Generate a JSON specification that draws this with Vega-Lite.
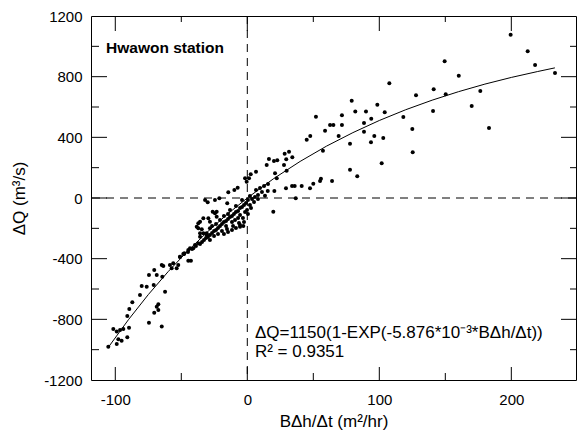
{
  "$schema": "https://vega.github.io/schema/vega-lite/v6.json",
  "autosize": "none",
  "width": 485,
  "height": 364,
  "padding": {"left": 91, "top": 16, "right": 1, "bottom": 55},
  "background": "white",
  "config": {
    "view": {"stroke": "black", "strokeWidth": 1},
    "font": "Liberation Sans"
  },
  "datasets": {
    "points": [
      {"x": 199.5, "y": 1076}, {"x": 212.4, "y": 967}, {"x": 149.5, "y": 901}, {"x": 218, "y": 877},
      {"x": 160.2, "y": 806}, {"x": 233.1, "y": 824}, {"x": 141.2, "y": 717}, {"x": 150.3, "y": 684},
      {"x": 176.5, "y": 705}, {"x": 140.7, "y": 574}, {"x": 170, "y": 606}, {"x": 183.1, "y": 461},
      {"x": 107.6, "y": 756}, {"x": 127.8, "y": 677}, {"x": 79.1, "y": 641}, {"x": 98.5, "y": 615},
      {"x": 52, "y": 536}, {"x": 71.7, "y": 545}, {"x": 81.8, "y": 571}, {"x": 89.9, "y": 571},
      {"x": 93.9, "y": 523}, {"x": 104.1, "y": 565}, {"x": 118.2, "y": 534}, {"x": 62.7, "y": 481},
      {"x": 65.2, "y": 481}, {"x": 71.7, "y": 481}, {"x": 88.4, "y": 494}, {"x": 58.9, "y": 444},
      {"x": 47.7, "y": 409}, {"x": 45, "y": 384}, {"x": 69.2, "y": 409}, {"x": 88.4, "y": 437},
      {"x": 96.2, "y": 409}, {"x": 125, "y": 455}, {"x": 77.8, "y": 358}, {"x": 93.7, "y": 367},
      {"x": 103, "y": 396}, {"x": 57.3, "y": 312}, {"x": 28.3, "y": 292}, {"x": 31.6, "y": 305},
      {"x": 29.5, "y": 255}, {"x": 34.1, "y": 268}, {"x": 27.8, "y": 218}, {"x": 29.8, "y": 180},
      {"x": 125.3, "y": 301}, {"x": 101.8, "y": 229}, {"x": 77.8, "y": 187}, {"x": 83.3, "y": 143},
      {"x": 29.3, "y": 64}, {"x": 33.9, "y": 79}, {"x": 35.9, "y": 79}, {"x": 41.2, "y": 79},
      {"x": 47.5, "y": 64}, {"x": 50, "y": 94}, {"x": 55.1, "y": 112}, {"x": 55.8, "y": 127},
      {"x": 64.2, "y": 112}, {"x": 36.7, "y": -2},
      {"x": 16.4, "y": 257}, {"x": 20.2, "y": 244}, {"x": 22.7, "y": 249}, {"x": 14.7, "y": 218},
      {"x": 6.6, "y": 173}, {"x": 2.6, "y": 156}, {"x": 1.3, "y": 130}, {"x": -1.7, "y": 130},
      {"x": -0.5, "y": 107}, {"x": 22.3, "y": 130}, {"x": 21, "y": 163}, {"x": -7.3, "y": 68},
      {"x": -9.8, "y": 53}, {"x": -14.4, "y": 38}, {"x": 15.5, "y": 46}, {"x": 20.5, "y": 46},
      {"x": 13.4, "y": 15}, {"x": -21.2, "y": -2}, {"x": -24.5, "y": -13}, {"x": -30, "y": -28},
      {"x": -32, "y": -13}, {"x": -23.2, "y": -90}, {"x": -29.5, "y": -134}, {"x": -35.8, "y": -156},
      {"x": -37.1, "y": -200}, {"x": -28.3, "y": -200}, {"x": -24.5, "y": -101}, {"x": -37.1, "y": -167},
      {"x": -28.3, "y": -156}, {"x": -30.8, "y": -233}, {"x": -35.8, "y": -233}, {"x": 19.7, "y": -90},
      {"x": -5.5, "y": -189}, {"x": -3, "y": -185}, {"x": -15.2, "y": -35}, {"x": -33.3, "y": -134},
      {"x": -26.2, "y": -90}, {"x": -23.2, "y": -123}, {"x": -38.3, "y": -189}, {"x": -34.5, "y": -206},
      {"x": 11.1, "y": 40}, {"x": 8.1, "y": 20}, {"x": 5.8, "y": 7}, {"x": 3.6, "y": -7},
      {"x": 2, "y": 13}, {"x": 0.5, "y": -13}, {"x": -1, "y": -33}, {"x": -2.5, "y": -46},
      {"x": -4, "y": -59}, {"x": -5.5, "y": -66}, {"x": -7, "y": -86}, {"x": -8.6, "y": -92},
      {"x": -10.1, "y": -105}, {"x": -11.6, "y": -119}, {"x": -13.1, "y": -125}, {"x": -14.6, "y": -138},
      {"x": -16.1, "y": -152}, {"x": -17.7, "y": -158}, {"x": -19.2, "y": -171}, {"x": -20.7, "y": -185},
      {"x": -22.2, "y": -198}, {"x": -23.7, "y": -211}, {"x": -25.2, "y": -218}, {"x": -26.7, "y": -231},
      {"x": -28.3, "y": -244}, {"x": -29.8, "y": -257}, {"x": -31.3, "y": -264}, {"x": -32.8, "y": -277},
      {"x": -34.3, "y": -290}, {"x": -35.8, "y": -303}, {"x": -38.9, "y": -316}, {"x": -41.9, "y": -336},
      {"x": -44.9, "y": -356}, {"x": -47.9, "y": -369}, {"x": -51, "y": -389},
      {"x": -1.7, "y": -92}, {"x": -5.5, "y": -112}, {"x": -7, "y": -132}, {"x": -9.3, "y": -145},
      {"x": -11.6, "y": -158}, {"x": -4, "y": -13}, {"x": -8.6, "y": -53}, {"x": -13.1, "y": -79},
      {"x": -14.6, "y": -105}, {"x": -17.7, "y": -119}, {"x": -20.7, "y": -145}, {"x": -0.2, "y": -79},
      {"x": -3.3, "y": -132}, {"x": 2, "y": -46}, {"x": 5.1, "y": -26}, {"x": 6.6, "y": 53},
      {"x": 9.6, "y": 66}, {"x": 12.7, "y": 79}, {"x": 15.7, "y": 92}, {"x": 8.1, "y": -7},
      {"x": 2.8, "y": -66}, {"x": 0.5, "y": -105}, {"x": -2.5, "y": -158}, {"x": -6.3, "y": -165},
      {"x": -10.8, "y": -185}, {"x": -15.4, "y": -204}, {"x": -19.2, "y": -218}, {"x": -22.2, "y": -237},
      {"x": -25.2, "y": -250}, {"x": -28.3, "y": -277}, {"x": -26.7, "y": -185}, {"x": -23.7, "y": -171},
      {"x": -16.1, "y": -185}, {"x": -11.6, "y": -211}, {"x": -8.6, "y": -198}, {"x": -5.5, "y": -178},
      {"x": -14.6, "y": -224}, {"x": -17.7, "y": -237},
      {"x": -105.3, "y": -980}, {"x": -101.5, "y": -864}, {"x": -98.9, "y": -881}, {"x": -96.4, "y": -870},
      {"x": -93.9, "y": -864}, {"x": -89.6, "y": -855}, {"x": -98.9, "y": -962}, {"x": -97.7, "y": -931},
      {"x": -95.2, "y": -941}, {"x": -90.9, "y": -918}, {"x": -90.9, "y": -778}, {"x": -89.4, "y": -732},
      {"x": -87.1, "y": -688}, {"x": -81.3, "y": -639}, {"x": -80, "y": -580}, {"x": -76.2, "y": -585},
      {"x": -74.5, "y": -508}, {"x": -70.9, "y": -574}, {"x": -70.5, "y": -475}, {"x": -68.6, "y": -508},
      {"x": -64.8, "y": -442}, {"x": -64.4, "y": -519}, {"x": -62.3, "y": -618}, {"x": -74.5, "y": -822},
      {"x": -70.5, "y": -756}, {"x": -67.4, "y": -738}, {"x": -68.6, "y": -717}, {"x": -67.4, "y": -700},
      {"x": -64.8, "y": -848}, {"x": -58.6, "y": -442}, {"x": -56.1, "y": -430}, {"x": -52.3, "y": -442},
      {"x": -51, "y": -387}, {"x": -48.5, "y": -369}, {"x": -44.7, "y": -413}, {"x": -42.7, "y": -413},
      {"x": -43.4, "y": -332}, {"x": -39.6, "y": -310}, {"x": -37.1, "y": -299}, {"x": -35.8, "y": -255},
      {"x": -33.3, "y": -233}, {"x": -30.8, "y": -244}, {"x": -47.7, "y": -365}, {"x": -44.7, "y": -343},
      {"x": -40.9, "y": -332}, {"x": -53.5, "y": -463}, {"x": -57.3, "y": -463}, {"x": -63.6, "y": -448}
    ],
    "curve": [
      {"x": -105, "y": -981}, {"x": -90, "y": -802}, {"x": -75, "y": -637}, {"x": -60, "y": -486},
      {"x": -45, "y": -348}, {"x": -30, "y": -222}, {"x": -15, "y": -106}, {"x": 0, "y": 0},
      {"x": 20, "y": 128}, {"x": 40, "y": 241}, {"x": 60, "y": 342}, {"x": 80, "y": 431},
      {"x": 100, "y": 511}, {"x": 120, "y": 582}, {"x": 140, "y": 645}, {"x": 160, "y": 701},
      {"x": 180, "y": 751}, {"x": 200, "y": 795}, {"x": 220, "y": 834}, {"x": 233, "y": 858}
    ],
    "yticks": [
      {"v": -1000, "kind": "minor"}, {"v": -800, "kind": "major"}, {"v": -600, "kind": "minor"},
      {"v": -400, "kind": "major"}, {"v": -200, "kind": "minor"}, {"v": 0, "kind": "major"},
      {"v": 200, "kind": "minor"}, {"v": 400, "kind": "major"}, {"v": 600, "kind": "minor"},
      {"v": 800, "kind": "major"}, {"v": 1000, "kind": "minor"}
    ],
    "xticks": [
      {"v": -100, "kind": "major"}, {"v": -50, "kind": "minor"}, {"v": 0, "kind": "major"},
      {"v": 50, "kind": "minor"}, {"v": 100, "kind": "major"}, {"v": 150, "kind": "minor"},
      {"v": 200, "kind": "major"}
    ],
    "zero": [{"v": 0}],
    "one": [{}]
  },
  "resolve": {"axis": {"x": "independent", "y": "independent"}},
  "layer": [
    {
      "data": {"name": "points"},
      "mark": {"type": "circle", "size": 16, "color": "black", "opacity": 1},
      "encoding": {
        "x": {
          "field": "x", "type": "quantitative",
          "scale": {"domain": [-118.4, 249], "nice": false, "zero": false},
          "axis": {
            "orient": "bottom",
            "values": [-100, 0, 100, 200],
            "labelExpr": "'' + datum.value",
            "labelFont": "Liberation Sans",
            "labelFontSize": 15,
            "labelColor": "black",
            "labelOverlap": false,
            "labelPadding": 12,
            "ticks": false,
            "tickSize": 0,
            "grid": false,
            "domain": false,
            "title": "BΔh/Δt (m²/hr)",
            "titleFont": "Liberation Sans",
            "titleFontSize": 17,
            "titleFontWeight": "normal",
            "titleColor": "black",
            "titlePadding": 6
          }
        },
        "y": {
          "field": "y", "type": "quantitative",
          "scale": {"domain": [-1200, 1200], "nice": false},
          "axis": {
            "orient": "left",
            "values": [-1200, -800, -400, 0, 400, 800, 1200],
            "labelExpr": "'' + datum.value",
            "labelFont": "Liberation Sans",
            "labelFontSize": 15,
            "labelColor": "black",
            "labelOverlap": false,
            "labelPadding": 9,
            "ticks": false,
            "tickSize": 0,
            "grid": false,
            "domain": false,
            "title": "ΔQ (m³/s)",
            "titleFont": "Liberation Sans",
            "titleFontSize": 17,
            "titleFontWeight": "normal",
            "titleColor": "black",
            "titlePadding": 15
          }
        }
      }
    },
    {
      "data": {"name": "curve"},
      "mark": {"type": "line", "color": "black", "strokeWidth": 1},
      "encoding": {
        "x": {"field": "x", "type": "quantitative", "axis": null},
        "y": {"field": "y", "type": "quantitative", "axis": null}
      }
    },
    {
      "data": {"name": "zero"},
      "mark": {"type": "rule", "color": "black", "strokeWidth": 1, "strokeDash": [8, 6]},
      "encoding": {"x": {"field": "v", "type": "quantitative", "axis": null}}
    },
    {
      "data": {"name": "zero"},
      "mark": {"type": "rule", "color": "black", "strokeWidth": 1, "strokeDash": [8, 6]},
      "encoding": {"y": {"field": "v", "type": "quantitative", "axis": null}}
    },
    {
      "data": {"name": "yticks"},
      "transform": [{"filter": "datum.kind === 'major'"}],
      "mark": {"type": "tick", "orient": "horizontal", "size": 16, "thickness": 1, "xOffset": 8, "color": "black", "opacity": 1},
      "encoding": {
        "y": {"field": "v", "type": "quantitative", "axis": null},
        "x": {"datum": -118.4, "type": "quantitative", "axis": null}
      }
    },
    {
      "data": {"name": "yticks"},
      "transform": [{"filter": "datum.kind === 'minor'"}],
      "mark": {"type": "tick", "orient": "horizontal", "size": 8, "thickness": 1, "xOffset": 4, "color": "black", "opacity": 1},
      "encoding": {
        "y": {"field": "v", "type": "quantitative", "axis": null},
        "x": {"datum": -118.4, "type": "quantitative", "axis": null}
      }
    },
    {
      "data": {"name": "yticks"},
      "transform": [{"filter": "datum.kind === 'major'"}],
      "mark": {"type": "tick", "orient": "horizontal", "size": 15, "thickness": 1, "xOffset": -7.5, "color": "black", "opacity": 1},
      "encoding": {
        "y": {"field": "v", "type": "quantitative", "axis": null},
        "x": {"datum": 249, "type": "quantitative", "axis": null}
      }
    },
    {
      "data": {"name": "yticks"},
      "transform": [{"filter": "datum.kind === 'minor'"}],
      "mark": {"type": "tick", "orient": "horizontal", "size": 6, "thickness": 1, "xOffset": -3, "color": "black", "opacity": 1},
      "encoding": {
        "y": {"field": "v", "type": "quantitative", "axis": null},
        "x": {"datum": 249, "type": "quantitative", "axis": null}
      }
    },
    {
      "data": {"name": "xticks"},
      "transform": [{"filter": "datum.kind === 'major'"}],
      "mark": {"type": "tick", "orient": "vertical", "size": 13, "thickness": 1, "yOffset": -6.5, "color": "black", "opacity": 1},
      "encoding": {
        "x": {"field": "v", "type": "quantitative", "axis": null},
        "y": {"datum": -1200, "type": "quantitative", "axis": null}
      }
    },
    {
      "data": {"name": "xticks"},
      "transform": [{"filter": "datum.kind === 'minor'"}],
      "mark": {"type": "tick", "orient": "vertical", "size": 7, "thickness": 1, "yOffset": -3.5, "color": "black", "opacity": 1},
      "encoding": {
        "x": {"field": "v", "type": "quantitative", "axis": null},
        "y": {"datum": -1200, "type": "quantitative", "axis": null}
      }
    },
    {
      "data": {"name": "xticks"},
      "transform": [{"filter": "datum.kind === 'major'"}],
      "mark": {"type": "tick", "orient": "vertical", "size": 15, "thickness": 1, "yOffset": 7.5, "color": "black", "opacity": 1},
      "encoding": {
        "x": {"field": "v", "type": "quantitative", "axis": null},
        "y": {"datum": 1200, "type": "quantitative", "axis": null}
      }
    },
    {
      "data": {"name": "xticks"},
      "transform": [{"filter": "datum.kind === 'minor'"}],
      "mark": {"type": "tick", "orient": "vertical", "size": 6, "thickness": 1, "yOffset": 3, "color": "black", "opacity": 1},
      "encoding": {
        "x": {"field": "v", "type": "quantitative", "axis": null},
        "y": {"datum": 1200, "type": "quantitative", "axis": null}
      }
    },
    {
      "data": {"name": "one"},
      "mark": {"type": "text", "text": "Hwawon station", "fontWeight": "bold", "fontSize": 15.5, "align": "left", "baseline": "alphabetic", "color": "black", "font": "Liberation Sans"},
      "encoding": {
        "x": {"datum": -107, "type": "quantitative", "axis": null},
        "y": {"datum": 956, "type": "quantitative", "axis": null}
      }
    },
    {
      "data": {"name": "one"},
      "mark": {"type": "text", "text": ["ΔQ=1150(1-EXP(-5.876*10⁻³*BΔh/Δt))", "R² = 0.9351"], "fontSize": 17, "lineHeight": 19, "align": "left", "baseline": "alphabetic", "color": "black", "font": "Liberation Sans"},
      "encoding": {
        "x": {"datum": 5.8, "type": "quantitative", "axis": null},
        "y": {"datum": -920, "type": "quantitative", "axis": null}
      }
    }
  ]
}
